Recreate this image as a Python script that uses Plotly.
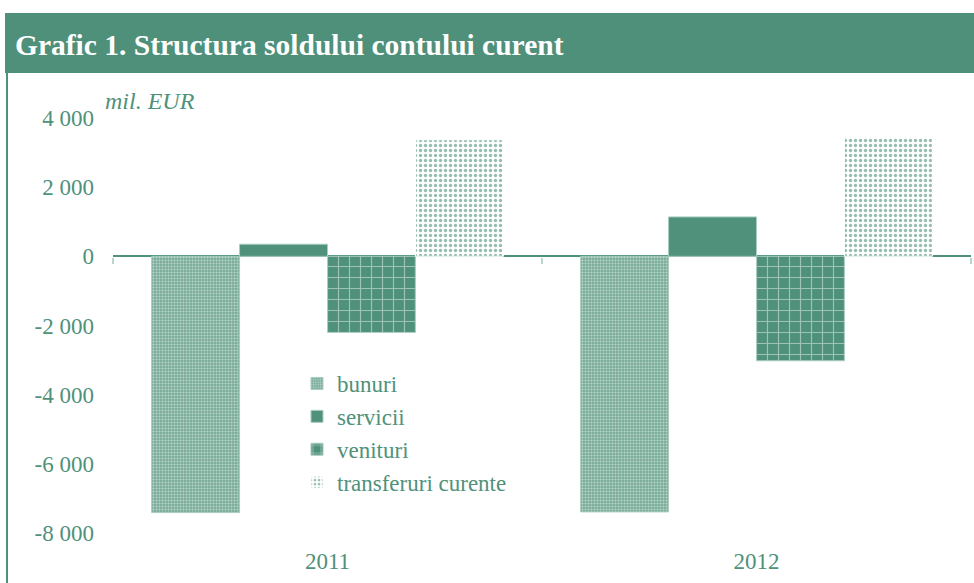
import plotly.graph_objects as go

# ---- data ----
years = ["2011", "2012"]
bunuri = [-7410, -7390]
servicii = [350, 1140]
venituri = [-2200, -3020]
transferuri = [3370, 3460]
series_names = ["bunuri", "servicii", "venituri", "transferuri curente"]
y_tickvals = [4000, 2000, 0, -2000, -4000, -6000, -8000]
y_ticktext = ["4 000", "2 000", "0", "-2 000", "-4 000", "-6 000", "-8 000"]

GREEN = "#4f917a"
EDGE = "#a9cdbf"
FONT = "Liberation Serif"

W, H = 974, 583
ML, MR, MT, MB = 113, 3, 118, 50
PW, PH = W - ML - MR, H - MT - MB


def px_x(p):
    return (p - ML) / PW


def px_y(p):
    return (H - MB - p) / PH


fig = go.Figure()

fig.add_trace(go.Bar(
    x=years, y=bunuri, name=series_names[0],
    marker=dict(color="#7fb09e", line=dict(color=EDGE, width=1),
                pattern=dict(shape=".", fgcolor="white", bgcolor="#7aad9a",
                             size=3, solidity=0.35)),
))
fig.add_trace(go.Bar(
    x=years, y=servicii, name=series_names[1],
    marker=dict(color=GREEN, line=dict(color=EDGE, width=1)),
))
fig.add_trace(go.Bar(
    x=years, y=venituri, name=series_names[2],
    marker=dict(color=GREEN, line=dict(color=EDGE, width=1),
                pattern=dict(shape="+", fgcolor="#eef5f2", bgcolor=GREEN,
                             size=11, solidity=0.2)),
))
fig.add_trace(go.Bar(
    x=years, y=transferuri, name=series_names[3],
    marker=dict(color="white", line=dict(color="white", width=1),
                pattern=dict(shape=".", fgcolor=GREEN, bgcolor="white",
                             size=5, solidity=0.35, fgopacity=0.6)),
))

fig.update_layout(
    width=W, height=H, autosize=False,
    margin=dict(l=ML, r=MR, t=MT, b=MB),
    paper_bgcolor="white", plot_bgcolor="white",
    barmode="group", bargap=0.18, bargroupgap=0,
    font=dict(family=FONT, size=23, color=GREEN),
    showlegend=True,
    legend=dict(x=px_x(297), y=px_y(362), xanchor="left", yanchor="top",
                bgcolor="rgba(0,0,0,0)", font=dict(size=23, color=GREEN),
                itemwidth=30, tracegroupgap=0),
    title=dict(text="<b>Grafic 1. Structura soldului contului curent</b>",
               x=15 / W, xanchor="left", xref="container",
               y=1 - 45 / H, yanchor="middle", yref="container",
               font=dict(family=FONT, size=29.5, color="white")),
    xaxis=dict(type="category", showgrid=False, showline=False, ticks="",
               tickfont=dict(size=23, color=GREEN), ticklabelstandoff=12),
    xaxis2=dict(matches="x", overlaying="x", anchor="free", position=px_y(257),
                showgrid=False, showline=False, ticks="outside", ticklen=6,
                tickcolor="#b9d7cc", tickwidth=2, tickson="boundaries",
                showticklabels=False, type="category"),
    yaxis=dict(range=[-8000, 4000], tickvals=y_tickvals, ticktext=y_ticktext,
               showgrid=False, showline=False, zeroline=True,
               zerolinecolor=GREEN, zerolinewidth=2,
               tickfont=dict(size=23, color=GREEN), ticklabelstandoff=18),
    shapes=[
        dict(type="rect", xref="paper", yref="paper",
             x0=px_x(5), x1=px_x(980), y0=px_y(73), y1=px_y(13),
             fillcolor="#4e907a", line=dict(width=0), layer="below"),
        dict(type="line", xref="paper", yref="paper",
             x0=px_x(7), x1=px_x(7), y0=px_y(73), y1=px_y(590),
             line=dict(color=GREEN, width=2)),
    ],
    annotations=[
        dict(text="<i>mil. EUR</i>", xref="paper", yref="paper",
             x=px_x(103), y=px_y(101), xanchor="left", yanchor="middle",
             showarrow=False, font=dict(family=FONT, size=24, color=GREEN)),
    ],
)

# invisible trace so that the zero-line category ticks axis is drawn
fig.add_trace(go.Bar(x=years, y=[0, 0], xaxis="x2", showlegend=False,
                     hoverinfo="skip", marker=dict(color="rgba(0,0,0,0)"),
                     width=0.0001))

fig.write_html("out.html",
               config={"displayModeBar": False},
               post_script="document.body.style.margin='0';"
                           "document.body.style.overflow='hidden';")
